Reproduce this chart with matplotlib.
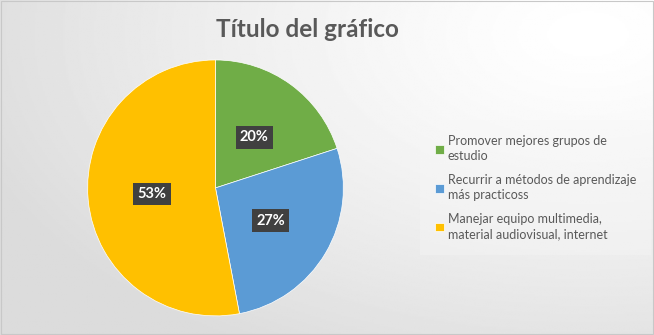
import matplotlib.pyplot as plt
import numpy as np

# Datos del gráfico
labels = ['Promover mejores grupos de\nestudio',
          'Recurrir a métodos de aprendizaje\nmás practicoss',
          'Manejar equipo multimedia,\nmaterial audiovisual, internet']
values = [20, 27, 53]
colors = ['#70AD47', '#5B9BD5', '#FFC000']

plt.rcParams['font.family'] = ['Lato', 'DejaVu Sans']

fig = plt.figure(figsize=(6.54, 3.35), dpi=100)

# fondo degradado estilo Excel
bg = fig.add_axes([0, 0, 1, 1], zorder=-10)
yy, xx = np.mgrid[0:1:200j, 0:1:400j]
dist = np.sqrt(((xx - 0.9) * 1.0) ** 2 + ((yy - 0.1) * 0.9) ** 2)
shade = np.clip(1.0 - 0.14 * dist ** 1.3, 0.86, 1.0)
bg.imshow(shade, cmap='gray', vmin=0, vmax=1, aspect='auto', extent=[0, 1, 0, 1], origin='upper')
bg.set_xlim(0, 1)
bg.set_ylim(0, 1)
bg.axis('off')
bg.add_patch(plt.Rectangle((0.001, 0.002), 0.997, 0.995, fill=False, ec='#c8c8c8', lw=0.8))

ax = fig.add_axes([0.134, 0.057, 0.391, 0.764])
wedges, texts, autotexts = ax.pie(values, colors=colors, startangle=90, counterclock=False,
                                  autopct=lambda p: f'{p:.0f}%', pctdistance=0.5,
                                  wedgeprops=dict(edgecolor='white', linewidth=0.5))
ax.set_aspect('auto')
ax.set_xlim(-1, 1)
ax.set_ylim(-1, 1)
for t in autotexts:
    t.set_color('white')
    t.set_fontweight('bold')
    t.set_fontsize(10.5)
    t.set_bbox(dict(boxstyle='square,pad=0.3', fc='#404040', ec='none'))
# ajuste posicion etiqueta 20% (Excel "ajuste optimo")
x, y = autotexts[0].get_position()
autotexts[0].set_position((x + 0.01, y - 0.01))

fig.text(0.47, 0.912, 'Título del gráfico', ha='center', va='center',
         fontsize=17.5, fontweight='bold', color='#595959')

leg = fig.legend(wedges, labels, loc='center left', bbox_to_anchor=(0.638, 0.44),
                 frameon=True, fontsize=9, handlelength=0.7, handleheight=0.7,
                 handletextpad=0.35, labelspacing=0.95, borderpad=0.9)
leg.get_frame().set_facecolor('#f7f7f7')
leg.get_frame().set_alpha(0.35)
leg.get_frame().set_edgecolor('none')
leg.get_frame().set_boxstyle('square')
for t in leg.get_texts():
    t.set_color('#595959')
    t.set_linespacing(1.3)

plt.savefig('out.png', dpi=100)
